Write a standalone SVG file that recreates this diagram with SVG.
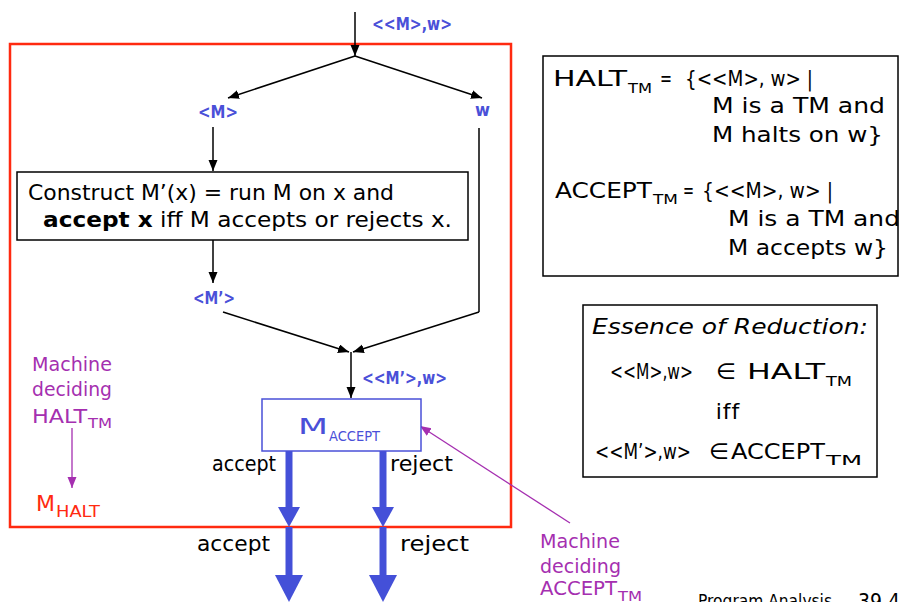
<svg xmlns="http://www.w3.org/2000/svg" width="901" height="602" viewBox="0 0 901 602">
<style>
text{font-family:"DejaVu Sans","Open Sans",sans-serif;}
.t{font-size:22px;fill:#000;}
.b{font-size:18px;font-weight:bold;fill:#4a50d8;}
.p{font-size:20px;fill:#a52fb0;}
.sub{font-size:14px;}
.ln{stroke:#000;stroke-width:1.5;fill:none;}
.thick{stroke:#4450d8;stroke-width:7;fill:none;}
.head{fill:#4450d8;}
.box{fill:#fff;stroke:#000;stroke-width:1.5;}
</style>
<defs>
<marker id="ah" markerUnits="userSpaceOnUse" markerWidth="12" markerHeight="10" refX="11" refY="4.5" orient="auto"><path d="M0,0 L11,4.5 L0,9 z" fill="#000"/></marker>
<marker id="ap" markerUnits="userSpaceOnUse" markerWidth="12" markerHeight="10" refX="11" refY="4.5" orient="auto"><path d="M0,0 L11,4.5 L0,9 z" fill="#a52fb0"/></marker>
</defs>
<rect id="frame" x="10" y="44" width="501" height="483" fill="none" stroke="#ff2a10" stroke-width="2.5"/>
<g id="connectors">
<line class="ln" x1="355" y1="12" x2="355" y2="56" marker-end="url(#ah)"/>
<line class="ln" x1="355" y1="56" x2="228" y2="98" marker-end="url(#ah)"/>
<line class="ln" x1="355" y1="56" x2="482" y2="98" marker-end="url(#ah)"/>
<line class="ln" x1="213" y1="127" x2="213" y2="171" marker-end="url(#ah)"/>
<line class="ln" x1="213" y1="240" x2="213" y2="283" marker-end="url(#ah)"/>
<line class="ln" x1="479" y1="128" x2="479" y2="312"/>
<line class="ln" x1="223" y1="312" x2="349" y2="352" marker-end="url(#ah)"/>
<line class="ln" x1="479" y1="312" x2="353" y2="352" marker-end="url(#ah)"/>
<line class="ln" x1="351" y1="352" x2="351" y2="398" marker-end="url(#ah)"/>
<line class="thick" x1="289" y1="451" x2="289" y2="509"/>
<polygon class="head" points="278,507 300,507 289,527"/>
<line class="thick" x1="289" y1="527" x2="289" y2="578"/>
<polygon class="head" points="275,575 303,575 289,602"/>
<line class="thick" x1="383" y1="451" x2="383" y2="509"/>
<polygon class="head" points="372,507 394,507 383,527"/>
<line class="thick" x1="383" y1="527" x2="383" y2="578"/>
<polygon class="head" points="369,575 397,575 383,602"/>
<line x1="72" y1="428" x2="72" y2="488" stroke="#a52fb0" stroke-width="1.3" marker-end="url(#ap)"/>
<line x1="570" y1="523" x2="420" y2="426" stroke="#a52fb0" stroke-width="1.3" marker-end="url(#ap)"/>
</g>
<g id="labels">
<text class="b" x="372" y="30" textLength="80" lengthAdjust="spacingAndGlyphs">&lt;&lt;M&gt;,w&gt;</text>
<text class="b" x="198" y="118" textLength="40" lengthAdjust="spacingAndGlyphs">&lt;M&gt;</text>
<text class="b" x="475" y="116" textLength="15" lengthAdjust="spacingAndGlyphs">w</text>
<text class="b" x="193" y="304" textLength="42" lengthAdjust="spacingAndGlyphs">&lt;M’&gt;</text>
<text class="b" x="362" y="384" textLength="85" lengthAdjust="spacingAndGlyphs">&lt;&lt;M’&gt;,w&gt;</text>
<text class="t" x="212" y="471" textLength="64" lengthAdjust="spacingAndGlyphs">accept</text>
<text class="t" x="390" y="471" textLength="63" lengthAdjust="spacingAndGlyphs">reject</text>
<text class="t" x="197" y="551" textLength="73" lengthAdjust="spacingAndGlyphs">accept</text>
<text class="t" x="400" y="551" textLength="69" lengthAdjust="spacingAndGlyphs">reject</text>
</g>
<g id="construct">
<rect class="box" x="17" y="172" width="451" height="68"/>
<text class="t" x="28" y="200" textLength="366" lengthAdjust="spacingAndGlyphs">Construct M’(x) = run M on x and</text>
<text class="t" x="43" y="227" textLength="409" lengthAdjust="spacingAndGlyphs"><tspan font-weight="bold">accept x</tspan> iff M accepts or rejects x.</text>
</g>
<g id="maccept">
<rect x="262" y="399" width="159" height="52" fill="#fff" stroke="#4a50d8" stroke-width="1.5"/>
<text x="298" y="434" font-size="22" fill="#4a50d8" textLength="30" lengthAdjust="spacingAndGlyphs">M</text>
<text x="329" y="441" font-size="14" fill="#4a50d8" textLength="51" lengthAdjust="spacingAndGlyphs">ACCEPT</text>
</g>
<g id="halt-note">
<text class="p" x="32" y="371" textLength="80" lengthAdjust="spacingAndGlyphs">Machine</text>
<text class="p" x="32" y="396" textLength="80" lengthAdjust="spacingAndGlyphs">deciding</text>
<text class="p" x="32" y="423" textLength="55" lengthAdjust="spacingAndGlyphs">HALT</text>
<text class="p sub" x="88" y="428" textLength="24" lengthAdjust="spacingAndGlyphs">TM</text>
</g>
<g id="mhalt">
<text x="36" y="511" font-size="22" fill="#ff2a10" textLength="19" lengthAdjust="spacingAndGlyphs">M</text>
<text x="56" y="517" font-size="15" fill="#ff2a10" textLength="44" lengthAdjust="spacingAndGlyphs">HALT</text>
</g>
<g id="accept-note">
<text class="p" x="540" y="548" textLength="80" lengthAdjust="spacingAndGlyphs">Machine</text>
<text class="p" x="540" y="573" textLength="81" lengthAdjust="spacingAndGlyphs">deciding</text>
<text class="p" x="540" y="595" textLength="77" lengthAdjust="spacingAndGlyphs">ACCEPT</text>
<text class="p sub" x="618" y="601" textLength="24" lengthAdjust="spacingAndGlyphs">TM</text>
</g>
<g id="definitions">
<rect class="box" x="543" y="56" width="355" height="220"/>
<text class="t" x="553" y="86" textLength="74" lengthAdjust="spacingAndGlyphs">HALT</text>
<text class="t sub" x="628" y="93" textLength="24" lengthAdjust="spacingAndGlyphs">TM</text>
<text class="t" x="660" y="86" textLength="12" lengthAdjust="spacingAndGlyphs">=</text>
<text class="t" x="685" y="86" textLength="128" lengthAdjust="spacingAndGlyphs">{&lt;&lt;M&gt;, w&gt; |</text>
<text class="t" x="712" y="113" textLength="173" lengthAdjust="spacingAndGlyphs">M is a TM and</text>
<text class="t" x="712" y="142" textLength="171" lengthAdjust="spacingAndGlyphs">M halts on w}</text>
<text class="t" x="555" y="198" textLength="97" lengthAdjust="spacingAndGlyphs">ACCEPT</text>
<text class="t sub" x="653" y="204" textLength="25" lengthAdjust="spacingAndGlyphs">TM</text>
<text class="t" x="683" y="198" textLength="11" lengthAdjust="spacingAndGlyphs">=</text>
<text class="t" x="702" y="198" textLength="131" lengthAdjust="spacingAndGlyphs">{&lt;&lt;M&gt;, w&gt; |</text>
<text class="t" x="728" y="226" textLength="172" lengthAdjust="spacingAndGlyphs">M is a TM and</text>
<text class="t" x="728" y="255" textLength="160" lengthAdjust="spacingAndGlyphs">M accepts w}</text>
</g>
<g id="essence">
<rect class="box" x="583" y="305" width="294" height="172"/>
<text class="t" x="592" y="334" font-style="italic" textLength="276" lengthAdjust="spacingAndGlyphs">Essence of Reduction:</text>
<text class="t" x="610" y="379" font-size="20" textLength="83" lengthAdjust="spacingAndGlyphs">&lt;&lt;M&gt;,w&gt;</text>
<text class="t" x="716" y="379" textLength="20" lengthAdjust="spacingAndGlyphs">∈</text>
<text class="t" x="747" y="379" textLength="78" lengthAdjust="spacingAndGlyphs">HALT</text>
<text class="t sub" x="826" y="386" textLength="26" lengthAdjust="spacingAndGlyphs">TM</text>
<text class="t" x="728" y="419" font-size="24" text-anchor="middle" letter-spacing="1" style="font-variant-ligatures:none">iff</text>
<text class="t" x="595" y="459" font-size="20" textLength="96" lengthAdjust="spacingAndGlyphs">&lt;&lt;M’&gt;,w&gt;</text>
<text class="t" x="709" y="459" textLength="20" lengthAdjust="spacingAndGlyphs">∈</text>
<text class="t" x="731" y="459" textLength="94" lengthAdjust="spacingAndGlyphs">ACCEPT</text>
<text class="t sub" x="826" y="465" textLength="36" lengthAdjust="spacingAndGlyphs">TM</text>
</g>
<g id="footer">
<text x="698" y="607" font-family="Liberation Serif" font-size="17" fill="#000" textLength="134" lengthAdjust="spacingAndGlyphs">Program Analysis</text>
<text x="858" y="609" font-size="22" fill="#000" textLength="42" lengthAdjust="spacingAndGlyphs">39.4</text>
</g>
</svg>
